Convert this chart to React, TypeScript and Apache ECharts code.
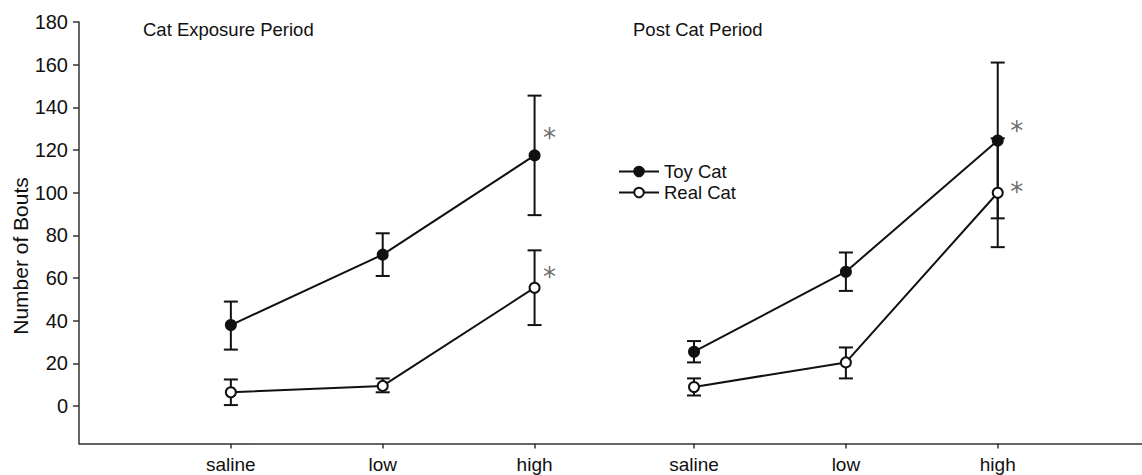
import React, { useEffect, useRef } from "react";
import * as echarts from "echarts";

// ---- data ----
const doses = ["saline", "low", "high"];
const periods = ["Cat Exposure Period", "Post Cat Period"];
// x coordinates of the six dose groups (two periods) on the shared axis
const xExposure = [1, 2, 3];
const xPost = [4.05, 5.05, 6.05];

const toyExposureMean = [38, 71, 117.5];
const toyExposureLow = [26.5, 61, 89.5];
const toyExposureHigh = [49, 81, 145.5];

const realExposureMean = [6.5, 9.5, 55.5];
const realExposureLow = [0.5, 6.5, 38];
const realExposureHigh = [12.5, 13, 73];

const toyPostMean = [25.5, 63, 124.5];
const toyPostLow = [20.5, 54, 88];
const toyPostHigh = [30.5, 72, 161];

const realPostMean = [9, 20.5, 100];
const realPostLow = [5, 13, 74.5];
const realPostHigh = [13, 27.5, 125.5];

// significance markers (*) per point
const toyExposureSig = [false, false, true];
const realExposureSig = [false, false, true];
const toyPostSig = [false, false, true];
const realPostSig = [false, false, true];

const yTicks = [0, 20, 40, 60, 80, 100, 120, 140, 160, 180];

const FONT = "Liberation Sans, Arial, Helvetica, sans-serif";
const INK = "#111";

function App() {
  const ref = useRef<HTMLDivElement>(null);

  useEffect(() => {
    if (!ref.current) return;
    const chart = echarts.init(ref.current, undefined, { renderer: "svg" });

    const allX = [...xExposure, ...xPost];
    const pts = (xs: number[], ys: number[]) => xs.map((x, i) => [x, ys[i]]);
    const bars = (xs: number[], lo: number[], hi: number[]) =>
      xs.map((x, i) => [x, lo[i], hi[i]]);

    const errSeries = (name: string, data: number[][]) => ({
      type: "custom",
      name,
      z: 1,
      silent: true,
      data,
      renderItem: (_p: any, api: any) => {
        const x = api.value(0);
        const top = api.coord([x, api.value(2)]);
        const bot = api.coord([x, api.value(1)]);
        const hw = 7;
        const style = { stroke: INK, lineWidth: 2 };
        return {
          type: "group",
          children: [
            { type: "line", shape: { x1: top[0], y1: top[1], x2: bot[0], y2: bot[1] }, style },
            { type: "line", shape: { x1: top[0] - hw, y1: top[1], x2: top[0] + hw, y2: top[1] }, style },
            { type: "line", shape: { x1: bot[0] - hw, y1: bot[1], x2: bot[0] + hw, y2: bot[1] }, style },
          ],
        };
      },
    });

    const lineSeries = (name: string, data: number[][], filled: boolean) => ({
      type: "line",
      name,
      z: 3,
      data,
      symbol: "circle",
      symbolSize: 10,
      showSymbol: true,
      lineStyle: { color: INK, width: 2 },
      itemStyle: {
        color: filled ? INK : "#ffffff",
        borderColor: INK,
        borderWidth: 2,
      },
    });

    const starSeries = (
      xs: number[],
      ys: number[],
      sig: boolean[],
      offsets: number[][]
    ) => ({
      type: "scatter",
      name: "sig",
      z: 4,
      silent: true,
      symbolSize: 0,
      data: xs
        .map((x, i) => ({ x, y: ys[i], s: sig[i], o: offsets[i] }))
        .filter((d) => d.s)
        .map((d) => ({
          value: [d.x, d.y],
          label: {
            show: true,
            formatter: "*",
            position: "inside",
            offset: d.o,
            fontFamily: "DejaVu Sans, sans-serif",
            fontSize: 26,
            color: "#444",
            align: "center",
            verticalAlign: "middle",
          },
        })),
    });

    const option = {
      animation: false,
      backgroundColor: "#ffffff",
      grid: { left: 79, right: 0, top: 22, bottom: 31.5 },
      title: [
        {
          text: periods[0],
          left: 138,
          top: 15,
          textStyle: { fontFamily: FONT, fontSize: 18.5, fontWeight: "normal", color: INK },
        },
        {
          text: periods[1],
          left: 628,
          top: 15,
          textStyle: { fontFamily: FONT, fontSize: 18.5, fontWeight: "normal", color: INK },
        },
      ],
      legend: {
        orient: "vertical",
        left: 613,
        top: 157,
        itemWidth: 40,
        itemHeight: 12,
        itemGap: 2,
        data: ["Toy Cat", "Real Cat"],
        textStyle: { fontFamily: FONT, fontSize: 18.5, color: INK },
      },
      xAxis: {
        type: "value",
        min: 0,
        max: 7,
        splitLine: { show: false },
        axisLine: { show: true, onZero: false, lineStyle: { color: "#333", width: 1.5 } },
        axisTick: { show: true, length: 5, customValues: allX, lineStyle: { color: "#333", width: 1.5 } },
        axisLabel: {
          customValues: allX,
          formatter: (v: number) => {
            const idx = allX.findIndex((x) => Math.abs(x - v) < 1e-6);
            return idx >= 0 ? doses[idx % 3] : "";
          },
          margin: 11,
          fontFamily: FONT,
          fontSize: 19,
          color: INK,
        },
      },
      yAxis: {
        type: "value",
        min: -17.5,
        max: 180,
        splitLine: { show: false },
        axisLine: { show: true, onZero: false, lineStyle: { color: "#333", width: 1.5 } },
        axisTick: { show: true, length: 6, customValues: yTicks, lineStyle: { color: "#333", width: 1.5 } },
        axisLabel: {
          customValues: yTicks,
          margin: 11,
          fontFamily: FONT,
          fontSize: 20,
          color: INK,
        },
      },
      graphic: [
        {
          type: "text",
          x: 20,
          y: 256,
          rotation: Math.PI / 2,
          style: {
            text: "Number of Bouts",
            fontFamily: FONT,
            fontSize: 21,
            fill: INK,
            textAlign: "center",
            textVerticalAlign: "middle",
          },
        },
      ],
      series: [
        errSeries("errToyE", bars(xExposure, toyExposureLow, toyExposureHigh)),
        errSeries("errRealE", bars(xExposure, realExposureLow, realExposureHigh)),
        errSeries("errToyP", bars(xPost, toyPostLow, toyPostHigh)),
        errSeries("errRealP", bars(xPost, realPostLow, realPostHigh)),
        lineSeries("Toy Cat", pts(xExposure, toyExposureMean), true),
        lineSeries("Toy Cat", pts(xPost, toyPostMean), true),
        lineSeries("Real Cat", pts(xExposure, realExposureMean), false),
        lineSeries("Real Cat", pts(xPost, realPostMean), false),
        starSeries(xExposure, toyExposureMean, toyExposureSig, [[0, 0], [0, 0], [15, -17]]),
        starSeries(xExposure, realExposureMean, realExposureSig, [[0, 0], [0, 0], [15, -11]]),
        starSeries(xPost, toyPostMean, toyPostSig, [[0, 0], [0, 0], [19, -9]]),
        starSeries(xPost, realPostMean, realPostSig, [[0, 0], [0, 0], [19, -1]]),
      ],
    };

    chart.setOption(option as any);
    return () => chart.dispose();
  }, []);

  return (
    <div
      ref={ref}
      style={{ position: "absolute", left: 0, top: 0, width: 1142, height: 475, background: "#fff" }}
    />
  );
}

export default App;
